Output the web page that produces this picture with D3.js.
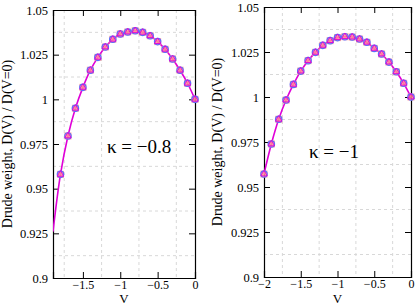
<!DOCTYPE html>
<html><head><meta charset="utf-8">
<script src="https://cdn.jsdelivr.net/npm/d3@7"></script>
<style>body{margin:0;background:#fff}svg{display:block}</style>
</head><body>
<svg id="c" width="415" height="307"></svg>
<script>
// Panel A: kappa = -0.8
const vA = [-1.8,-1.7,-1.6,-1.5,-1.4,-1.3,-1.2,-1.1,-1.0,-0.9,-0.8,-0.7,-0.6,-0.5,-0.4,-0.3,-0.2,-0.1,0];
const dA = [0.958,0.9795,0.995,1.0067,1.0163,1.0235,1.0293,1.0336,1.0366,1.0377,1.0384,1.0375,1.0356,1.0323,1.028,1.0226,1.0163,1.009,1.0];
// curve extension at the left edge
const lineExtA = {v:-1.9, d:0.926};
// Panel B: kappa = -1
const vB = [-2.0,-1.9,-1.8,-1.7,-1.6,-1.5,-1.4,-1.3,-1.2,-1.1,-1.0,-0.9,-0.8,-0.7,-0.6,-0.5,-0.4,-0.3,-0.2,-0.1,0];
const dB = [0.9572,0.9739,0.9876,0.9983,1.007,1.0144,1.0202,1.0248,1.0287,1.0313,1.033,1.0335,1.0333,1.0322,1.0304,1.027,1.0239,1.0194,1.014,1.0076,1.0];

const yTicks = [0.9,0.925,0.95,0.975,1,1.025,1.05];
const yTickLabels = ["0.9","0.925","0.95","0.975","1","1.025","1.05"];
const yMinor = [0.9125,0.9375,0.9625,0.9875,1.0125,1.0375];
const xTicksA = [-1.5,-1,-0.5,0];
const xTicksB = [-2,-1.5,-1,-0.5,0];
const xMinor = [-1.75,-1.25,-0.75,-0.25];
const yTitle = "Drude weight, D(V) / D(V=0)";
const xTitle = "V";
const labelA = "κ = −0.8";
const labelB = "κ = −1";

const svg = d3.select("#c");
const font = "'Liberation Serif','Times New Roman',serif";

function panel(o){
  const g = svg.append("g");
  const x = d3.scaleLinear().domain(o.xd).range([o.l,o.r]);
  const y = d3.scaleLinear().domain([0.9,1.05]).range([o.b,o.t]);
  const clipId = "clip"+o.id;
  svg.append("clipPath").attr("id",clipId).append("rect")
    .attr("x",o.l).attr("y",o.t).attr("width",o.r-o.l).attr("height",o.b-o.t);
  // grid
  g.selectAll(".gx").data(xMinor).enter().append("line")
    .attr("x1",d=>x(d)).attr("x2",d=>x(d)).attr("y1",o.t).attr("y2",o.b)
    .attr("stroke","#d8d8d8").attr("stroke-dasharray","3,3").attr("stroke-width",1);
  g.selectAll(".gy").data(yMinor).enter().append("line")
    .attr("y1",d=>y(d)).attr("y2",d=>y(d)).attr("x1",o.l).attr("x2",o.r)
    .attr("stroke","#d8d8d8").attr("stroke-dasharray","3,3").attr("stroke-width",1);
  // axes
  const tl = 6;
  const ax = [
    [d3.axisBottom(x).tickValues(o.xt).tickSize(-tl).tickPadding(2).tickFormat(d3.format("")), `translate(0,${o.b})`, 12],
    [d3.axisTop(x).tickValues(o.xt).tickSize(-tl).tickFormat(""), `translate(0,${o.t})`, 12],
    [d3.axisLeft(y).tickValues(yTicks).tickSize(-tl).tickPadding(5).tickFormat((d,i)=>yTickLabels[i]), `translate(${o.l},0)`, 12.5],
    [d3.axisRight(y).tickValues(yTicks).tickSize(-tl).tickFormat(""), `translate(${o.r},0)`, 12]
  ];
  ax.forEach(([a,tr,fs])=>{
    const ag = g.append("g").attr("transform",tr).call(a);
    ag.select(".domain").attr("stroke","#000").attr("stroke-width",1.2);
    ag.selectAll(".tick line").attr("stroke","#000").attr("stroke-width",1);
    ag.selectAll("text").attr("font-family",font).attr("font-size",fs).attr("fill","#000");
  });
  // line
  const pts = o.v.map((v,i)=>({v, d:o.d[i]}));
  const lpts = o.ext ? [o.ext].concat(pts) : pts;
  g.append("path").datum(lpts).attr("clip-path",`url(#${clipId})`)
    .attr("d", d3.line().x(d=>x(d.v)).y(d=>y(d.d)).curve(d3.curveCatmullRom))
    .attr("fill","none").attr("stroke","#e000d8").attr("stroke-width",1.6);
  // markers
  const m = g.append("g");
  m.selectAll("rect").data(pts).enter().append("rect")
    .attr("x",d=>x(d.v)-3.5).attr("y",d=>y(d.d)-3.5).attr("width",7).attr("height",7)
    .attr("fill","#ff9090").attr("fill-opacity",0.85);
  m.selectAll("circle").data(pts).enter().append("circle")
    .attr("cx",d=>x(d.v)).attr("cy",d=>y(d.d)).attr("r",3.2)
    .attr("fill","none").attr("stroke","#5a6cff").attr("stroke-width",1.2);
  m.selectAll(".tri").data(pts).enter().append("path")
    .attr("transform",d=>`translate(${x(d.v)},${y(d.d)})`)
    .attr("d", d3.symbol().type(d3.symbolTriangle).size(18))
    .attr("fill","none").attr("stroke","#e000d8").attr("stroke-width",0.9);
  // titles
  svg.append("text").attr("transform",`translate(${o.yl},${(o.t+o.b)/2}) rotate(-90)`)
    .attr("text-anchor","middle").attr("font-family",font).attr("font-size",14).text(yTitle);
  svg.append("text").attr("x",(o.l+o.r)/2).attr("y",303)
    .attr("text-anchor","middle").attr("font-family",font).attr("font-size",13).text(xTitle);
  svg.append("text").attr("x",o.kx).attr("y",o.ky)
    .attr("font-family",font).attr("font-size",19).text(o.label);
}

panel({id:"A", xd:[-1.9,0], l:53, r:195, t:10, b:278, xt:xTicksA, v:vA, d:dA, ext:lineExtA, yl:12, kx:107, ky:153, label:labelA});
panel({id:"B", xd:[-2,0], l:264, r:411, t:7, b:277, xt:xTicksB, v:vB, d:dB, ext:null, yl:222, kx:309, ky:158, label:labelB});
</script>
</body></html>
